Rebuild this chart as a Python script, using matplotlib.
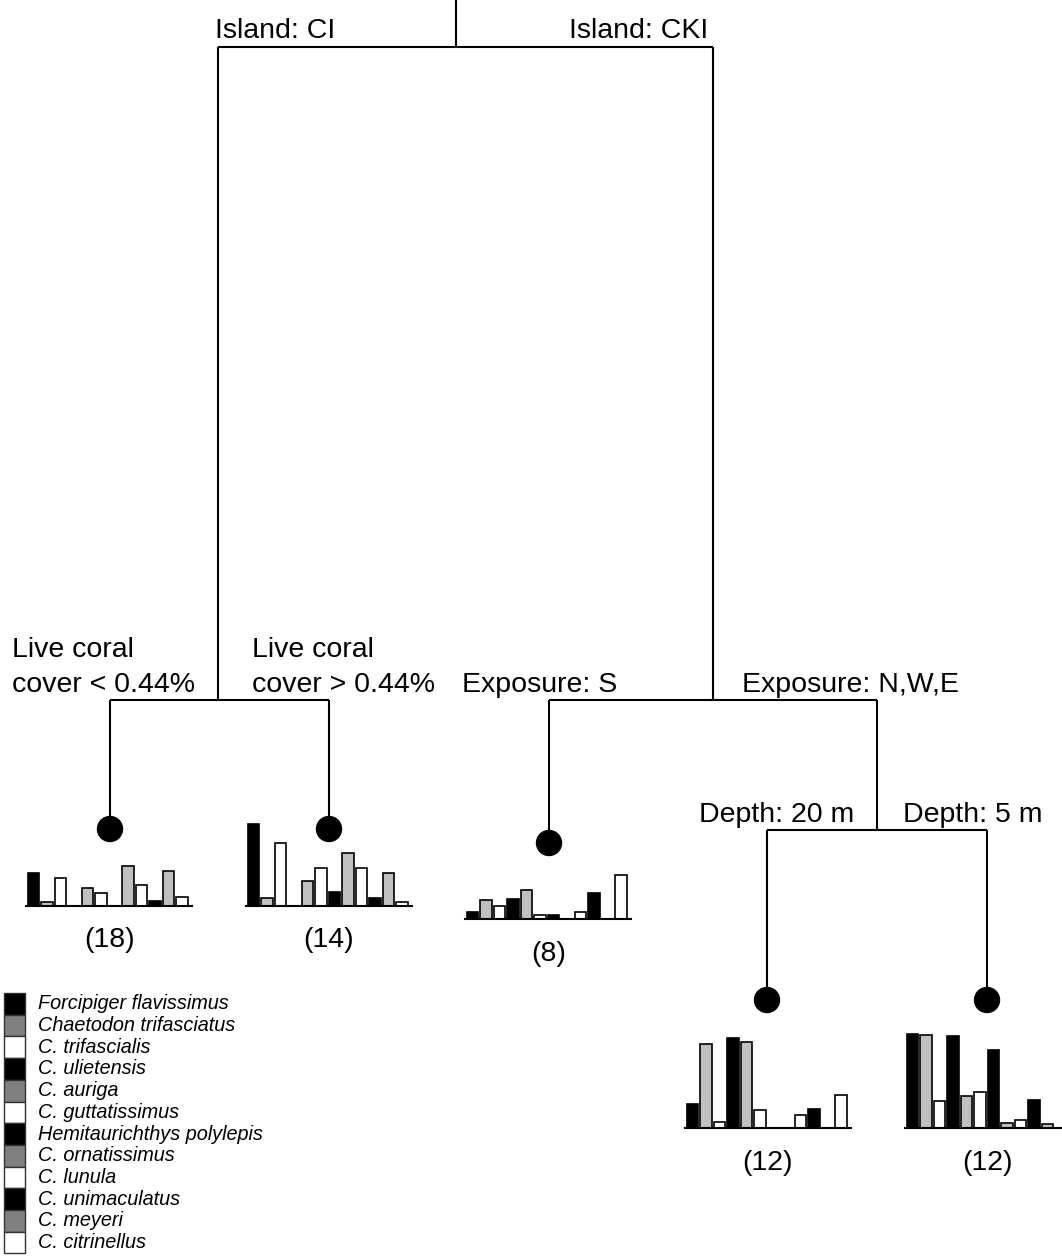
import matplotlib.pyplot as plt
from matplotlib.patches import Circle, Rectangle

plt.rcParams['font.family'] = ['Liberation Sans', 'DejaVu Sans']

# species, in legend order
species = ['Forcipiger flavissimus', 'Chaetodon trifasciatus', 'C. trifascialis',
           'C. ulietensis', 'C. auriga', 'C. guttatissimus',
           'Hemitaurichthys polylepis', 'C. ornatissimus', 'C. lunula',
           'C. unimaculatus', 'C. meyeri', 'C. citrinellus']

# relative abundance per terminal node
leaf_ci_low = [33, 4, 28, 0, 18, 13, 0, 40, 21, 5, 35, 9]
leaf_ci_high = [82, 8, 63, 0, 25, 38, 14, 53, 38, 8, 33, 4]
leaf_cki_s = [7, 19, 13, 20, 29, 4, 4, 0, 7, 26, 0, 44]
leaf_cki_20m = [24, 84, 6, 90, 86, 18, 0, 0, 13, 19, 0, 33]
leaf_cki_5m = [94, 93, 27, 92, 32, 36, 78, 5, 8, 28, 4, 0]
leaf_counts = ['(18)', '(14)', '(8)', '(12)', '(12)']

W, H = 1062, 1258
fig = plt.figure(figsize=(W / 100, H / 100), dpi=100)
ax = fig.add_axes([0, 0, 1, 1])
ax.set_xlim(0, W)
ax.set_ylim(H, 0)
ax.axis('off')

lw = 1.5
big = 20.5


def seg(x0, y0, x1, y1):
    ax.plot([x0, x1], [y0, y1], color='black', lw=lw, solid_capstyle='butt')


# tree skeleton
seg(456, 0, 456, 47)
seg(218, 47, 713, 47)
seg(218, 47, 218, 700)
seg(713, 47, 713, 700)
seg(110, 700, 329, 700)
seg(549, 700, 877, 700)
seg(110, 700, 110, 829)
seg(329, 700, 329, 829)
seg(549, 700, 549, 843)
seg(877, 700, 877, 830)
seg(767, 830, 987, 830)
seg(767, 830, 767, 1000)
seg(987, 830, 987, 1000)

for cx, cy in [(110, 829), (329, 829), (549, 843), (767, 1000), (987, 1000)]:
    ax.add_patch(Circle((cx, cy), 12.5, color='black', zorder=3))

# split labels
ax.text(215, 38, 'Island: CI', fontsize=big, va='baseline', ha='left')
ax.text(708, 38, 'Island: CKI', fontsize=big, va='baseline', ha='right')
ax.text(12, 692, 'Live coral\ncover < 0.44%', fontsize=big, va='baseline', ha='left',
        linespacing=1.45)
ax.text(252, 692, 'Live coral\ncover > 0.44%', fontsize=big, va='baseline', ha='left',
        linespacing=1.45)
ax.text(462, 692, 'Exposure: S', fontsize=big, va='baseline', ha='left')
ax.text(742, 692, 'Exposure: N,W,E', fontsize=big, va='baseline', ha='left')
ax.text(699, 822, 'Depth: 20 m', fontsize=big, va='baseline', ha='left')
ax.text(903, 822, 'Depth: 5 m', fontsize=big, va='baseline', ha='left')

# leaf bar charts
bar_colors = ['black', '#c0c0c0', 'white'] * 4
leaves = [leaf_ci_low, leaf_ci_high, leaf_cki_s, leaf_cki_20m, leaf_cki_5m]
lefts = [26, 246, 465, 685, 905]
baselines = [906, 906, 919, 1128, 1128]
centers = [110, 329, 549, 767, 987]
label_y = [940, 940, 954, 1163, 1163]
for vals, left, base, cx, ly, n in zip(leaves, lefts, baselines, centers, label_y, leaf_counts):
    bx = fig.add_axes([left / W, (H - base) / H, 166 / W, 110 / H])
    bx.bar(range(len(vals)), vals, width=0.85, color=bar_colors,
           edgecolor='black', linewidth=1.2)
    bx.set_xlim(-0.55, 11.75)
    bx.set_ylim(0, 110)
    bx.patch.set_alpha(0)
    for s in ['top', 'left', 'right']:
        bx.spines[s].set_visible(False)
    bx.spines['bottom'].set_linewidth(lw)
    bx.set_xticks([])
    bx.set_yticks([])
    ax.text(cx, ly, n, fontsize=big, ha='center', va='center')

# legend
legend_colors = ['black', '#808080', 'white'] * 4
row_h = 21.7
for i, (name, c) in enumerate(zip(species, legend_colors)):
    y0 = 993 + i * row_h
    ax.add_patch(Rectangle((4, y0), 21, row_h, facecolor=c, edgecolor='#333333', lw=1))
    ax.text(38, y0 + row_h / 2, name, fontsize=14.3, style='italic', va='center', ha='left')

fig.savefig('out.png', dpi=100)
